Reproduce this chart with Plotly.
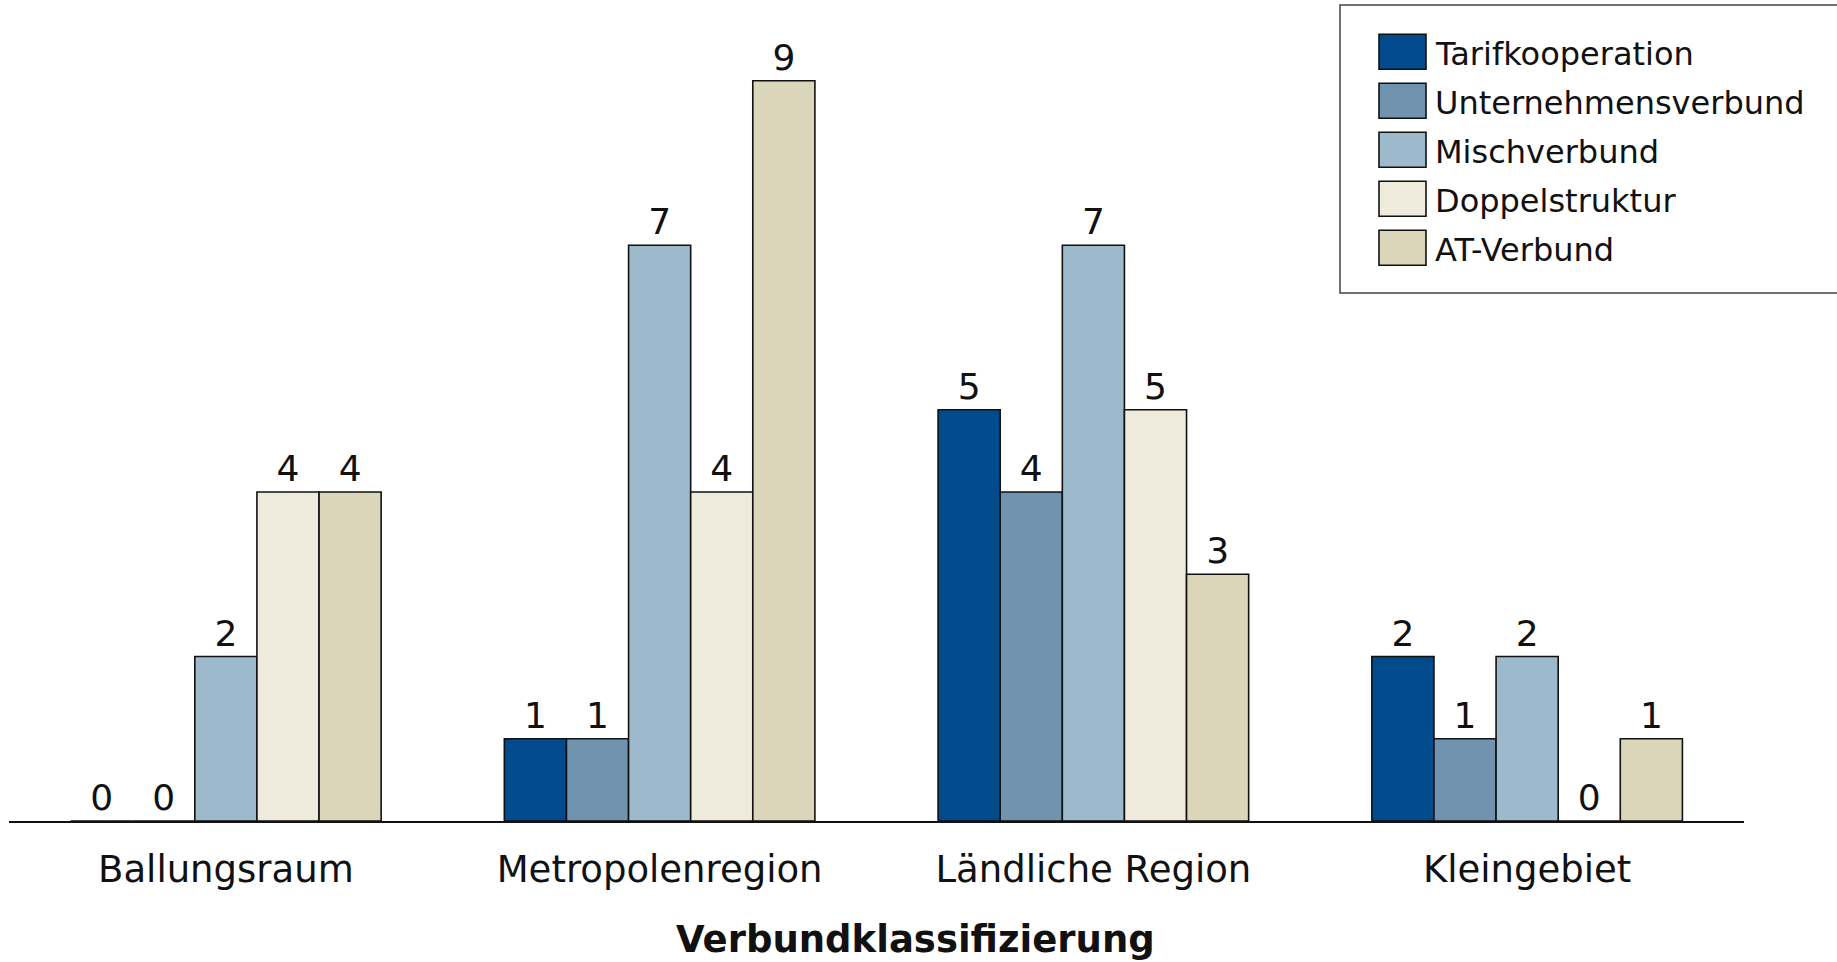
import plotly.graph_objects as go

categories = ["Ballungsraum", "Metropolenregion", "Ländliche Region", "Kleingebiet"]
series_names = ["Tarifkooperation", "Unternehmensverbund", "Mischverbund", "Doppelstruktur", "AT-Verbund"]
tarifkooperation = [0, 1, 5, 2]
unternehmensverbund = [0, 1, 4, 1]
mischverbund = [2, 7, 7, 2]
doppelstruktur = [4, 4, 5, 0]
at_verbund = [4, 9, 3, 1]
series_values = [tarifkooperation, unternehmensverbund, mischverbund, doppelstruktur, at_verbund]
colors = ["#014B8D", "#7094B0", "#9CBACB", "#EEEBDD", "#DBD6B9"]
x_title = "Verbundklassifizierung"

W, H = 1837, 962
ML, MR, MT, MB = 9, 93, 15, 141
PW, PH = W - ML - MR, H - MT - MB

def px_x(p):
    return (p - ML) / PW

def px_y(p):
    return (H - MB - p) / PH

FONT = "DejaVu Sans"

fig = go.Figure()
for name, vals, col in zip(series_names, series_values, colors):
    fig.add_trace(go.Bar(
        x=categories, y=vals, name=name,
        marker=dict(color=col, line=dict(color="#111111", width=1.6)),
        text=[str(v) for v in vals], textposition="outside",
        textfont=dict(family=FONT, size=36, color="#111111"),
        cliponaxis=False, showlegend=False,
    ))

shapes = []
annotations = []
# legend box
shapes.append(dict(type="rect", xref="paper", yref="paper",
                   x0=px_x(1340), x1=px_x(1860), y0=px_y(5), y1=px_y(293),
                   line=dict(color="#444444", width=1.5), fillcolor="white", layer="above"))
for i, (name, col) in enumerate(zip(series_names, colors)):
    top = 34.3 + 49 * i
    shapes.append(dict(type="rect", xref="paper", yref="paper",
                       x0=px_x(1379), x1=px_x(1426), y0=px_y(top), y1=px_y(top + 35),
                       line=dict(color="#111111", width=1.6), fillcolor=col, layer="above"))
    annotations.append(dict(xref="paper", yref="paper", x=px_x(1433), y=px_y(top + 20),
                            xanchor="left", yanchor="middle", text=name, showarrow=False,
                            font=dict(family=FONT, size=32, color="#111111")))

annotations.append(dict(xref="paper", yref="paper", x=px_x(916), y=px_y(939),
                        xanchor="center", yanchor="middle", text="<b>" + x_title + "</b>",
                        showarrow=False, font=dict(family=FONT, size=37, color="#111111")))

fig.update_layout(
    width=W, height=H,
    margin=dict(l=ML, r=MR, t=MT, b=MB),
    barmode="group", bargap=0.284, bargroupgap=0,
    plot_bgcolor="white", paper_bgcolor="white",
    shapes=shapes, annotations=annotations,
    showlegend=False,
    xaxis=dict(type="category", range=[-0.5, 3.5], showline=True, linecolor="#111111", linewidth=2,
               showgrid=False, zeroline=False, ticks="",
               tickfont=dict(family=FONT, size=37, color="#111111"), ticklabelstandoff=15),
    yaxis=dict(range=[0, 9.8], visible=False, showgrid=False, zeroline=False),
)

fig.write_html("out.html")
